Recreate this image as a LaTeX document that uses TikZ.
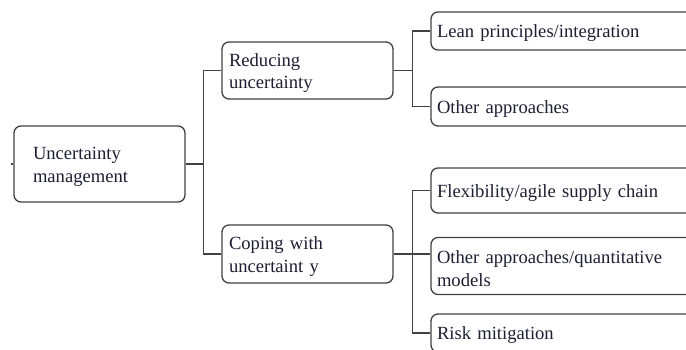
\documentclass[tikz,border=0pt]{standalone}
\usepackage{fontspec}
\setmainfont{Liberation Serif}
\definecolor{inkc}{RGB}{30,30,52}
\definecolor{edgec}{RGB}{66,66,70}
\begin{document}
\begin{tikzpicture}[x=1pt,y=-1pt,
  box/.style={draw=edgec,line width=1.3pt,rounded corners=7pt,fill=white,
    text=inkc,align=left,anchor=center,text height=18pt,
    font=\fontsize{18.6}{22.5}\selectfont},
  link/.style={draw=edgec,line width=1.3pt}]
\useasboundingbox (0,0) rectangle (686,350);
\clip (0,0) rectangle (686,350);

% first and second level
\node[box,minimum width=171pt,minimum height=76pt,inner xsep=19pt,text width=133pt] (root) at (99.5,164) {Uncertainty\\management};
\node[box,minimum width=171pt,minimum height=57pt,inner xsep=7pt,text width=157pt] (red) at (307.5,70.5) {Reducing\\uncertainty};
\node[box,minimum width=171pt,minimum height=58pt,inner xsep=7pt,text width=157pt] (cop) at (307.5,254) {Coping with\\uncertaint y};

% third level (running past the right edge)
\node[box,minimum width=280pt,minimum height=38pt,inner xsep=6pt,text width=268pt] (lean) at (571,31) {Lean principles/integration};
\node[box,minimum width=280pt,minimum height=39pt,inner xsep=6pt,text width=268pt] (oth) at (571,106.5) {Other approaches};
\node[box,minimum width=280pt,minimum height=45pt,inner xsep=6pt,text width=268pt] (flex) at (571,190.5) {Flexibility/agile supply chain};
\node[box,minimum width=280pt,minimum height=57pt,inner xsep=6pt,text width=268pt] (quant) at (571,266) {Other approaches/quantitative\\models};
\node[box,minimum width=280pt,minimum height=38pt,inner xsep=6pt,text width=268pt] (risk) at (571,333) {Risk mitigation};

% connectors
\draw[link] (root.west) -- ++(-2,0);
\draw[link] (root.east) -- ++(18,0) |- (red.west);
\draw[link] (root.east) -- ++(18,0) |- (cop.west);
\draw[link] (red.east) -- ++(19,0) |- (lean.west);
\draw[link] (red.east) -- ++(19,0) |- (oth.west);
\draw[link] (cop.east) -- ++(19,0) |- (flex.west);
\draw[link] (cop.east) -- ++(19,0) |- (risk.west);
\draw[link] (cop.east) -- (cop.east -| quant.west);
\end{tikzpicture}
\end{document}
